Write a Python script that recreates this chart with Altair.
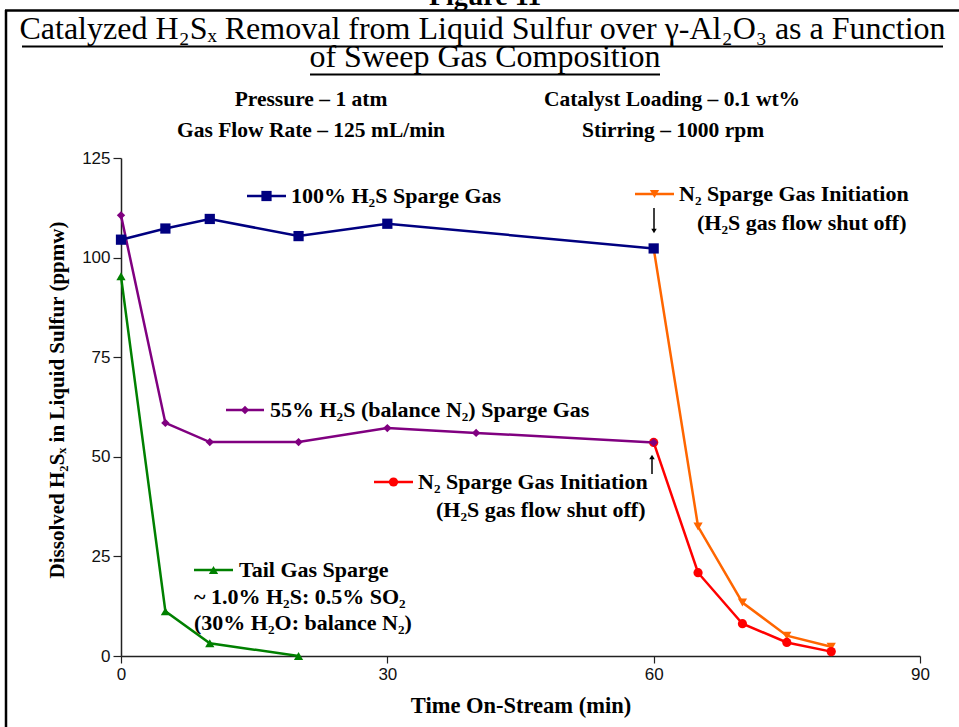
import altair as alt
import pandas as pd

# ---- data ----
t_h2s100 = [0, 5, 10, 20, 30, 60]
v_h2s100 = [104.5, 107.3, 109.7, 105.4, 108.5, 102.3]

t_h2s55 = [0, 5, 10, 20, 30, 40, 60]
v_h2s55 = [110.6, 58.5, 53.7, 53.7, 57.2, 56.0, 53.6]

t_tail = [0, 5, 10, 20]
v_tail = [95.3, 11.2, 3.2, 0.0]

t_n2_after55 = [60, 65, 70, 75, 80]
v_n2_after55 = [53.6, 20.9, 8.1, 3.4, 1.1]

t_n2_after100 = [60, 65, 70, 75, 80]
v_n2_after100 = [102.3, 32.5, 13.4, 5.1, 2.3]

x_ticks = [0, 30, 60, 90]
y_ticks = [0, 25, 50, 75, 100, 125]

SERIF = "Liberation Serif"
SANS = "Liberation Sans"

# plot geometry
W, H = 799, 498
PAD = {"left": 121, "top": 158, "right": 39, "bottom": 71}

xscale = alt.Scale(domain=[0, 90], nice=False, zero=False)
yscale = alt.Scale(domain=[0, 125], nice=False, zero=False)
xaxis = alt.Axis(values=x_ticks, title=None, grid=False, tickSize=7, labelPadding=3,
                 labelFont=SANS, labelFontSize=17, labelColor="#111", domainColor="#222",
                 tickColor="#222", domainWidth=1.5, tickWidth=1.2, labelFlush=False)
yaxis = alt.Axis(values=y_ticks, title=None, grid=False, tickSize=8, labelPadding=3,
                 labelFont=SANS, labelFontSize=17, labelColor="#111", domainColor="#222",
                 tickColor="#222", domainWidth=1.5, tickWidth=1.2)

series = [
    # (times, values, color, shape, size)  -- drawn bottom to top
    (t_n2_after100, v_n2_after100, "#FF6600", "triangle-down", 85),
    (t_n2_after55, v_n2_after55, "#FF0000", "circle", 85),
    (t_tail, v_tail, "#008000", "triangle-up", 85),
    (t_h2s55, v_h2s55, "#800080", "diamond", 70),
    (t_h2s100, v_h2s100, "#000080", "square", 105),
]

layers = []
for ts, vs, col, shp, sz in series:
    d = pd.DataFrame({"t": ts, "v": vs})
    base = alt.Chart(d).encode(
        x=alt.X("t:Q", scale=xscale, axis=xaxis),
        y=alt.Y("v:Q", scale=yscale, axis=yaxis),
    )
    layers.append(base.mark_line(color=col, strokeWidth=2.5))
    layers.append(base.mark_point(shape=shp, filled=True, size=sz, color=col, opacity=1))

one = pd.DataFrame({"k": [0]})


def px(x):
    return x - PAD["left"]


def py(y):
    return y - PAD["top"]


def text(s, x, y, size, weight="bold", align="left", baseline="middle", font=SERIF, angle=0):
    return alt.Chart(one).mark_text(
        text=s, font=font, fontSize=size, fontWeight=weight, align=align,
        baseline=baseline, color="black", angle=angle
    ).encode(x=alt.value(px(x)), y=alt.value(py(y)))


def hline(x1, x2, y, col="black", w=2.0):
    return alt.Chart(one).mark_rule(color=col, strokeWidth=w).encode(
        x=alt.value(px(x1)), x2=alt.value(px(x2)), y=alt.value(py(y)))


def vline(x, y1, y2, col="black", w=2.0):
    return alt.Chart(one).mark_rule(color=col, strokeWidth=w).encode(
        x=alt.value(px(x)), y=alt.value(py(y1)), y2=alt.value(py(y2)))


def marker(x, y, shp, col, sz):
    return alt.Chart(one).mark_point(shape=shp, filled=True, size=sz, color=col, opacity=1).encode(
        x=alt.value(px(x)), y=alt.value(py(y)))


LBL = 22  # in-plot label size
deco = []
# frame
deco.append(hline(5, 959, 10.5, w=2.5))
deco.append(vline(6, 10, 727, w=2.5))
# figure label (cut by frame top)
deco.append(text("Figure 11", 485, 5, 28, baseline="alphabetic", align="center"))
# title
deco.append(text("Catalyzed H₂Sₓ Removal from Liquid Sulfur over γ-Al₂O₃ as a Function",
                 482.5, 39, 32, weight="normal", align="center", baseline="alphabetic"))
deco.append(hline(22, 943, 46.5, w=1.8))
deco.append(text("of Sweep Gas Composition", 485, 67, 32, weight="normal", align="center",
                 baseline="alphabetic"))
deco.append(hline(310, 660, 74.5, w=1.8))
# conditions
deco.append(text("Pressure – 1 atm", 311, 106, 21.5, align="center", baseline="alphabetic"))
deco.append(text("Gas Flow Rate – 125 mL/min", 311, 137, 21.5, align="center", baseline="alphabetic"))
deco.append(text("Catalyst Loading – 0.1 wt%", 672, 106, 21.5, align="center", baseline="alphabetic"))
deco.append(text("Stirring – 1000 rpm", 673, 137, 21.5, align="center", baseline="alphabetic"))
# axis titles
deco.append(text("Time On-Stream (min)", 521, 713, 22.5, align="center", baseline="alphabetic"))
deco.append(text("Dissolved H₂Sₓ in Liquid Sulfur (ppmw)", 58, 400, 21, align="center",
                 baseline="middle", angle=270))

# in-plot labels with keys
def key(x1, x2, y, col, shp, sz):
    return [hline(x1, x2, y, col=col, w=2.5), marker((x1 + x2) / 2, y, shp, col, sz)]

deco += key(247, 286, 196, "#000080", "square", 105)
deco.append(text("100% H₂S Sparge Gas", 291, 196, LBL))

deco += key(226, 264, 410, "#800080", "diamond", 70)
deco.append(text("55% H₂S (balance N₂) Sparge Gas", 270, 410, LBL))

deco += key(374, 413, 482, "#FF0000", "circle", 85)
deco.append(text("N₂ Sparge Gas Initiation", 418, 482, LBL))
deco.append(text("(H₂S gas flow shut off)", 436, 510, LBL))

deco += key(635, 674, 194, "#FF6600", "triangle-down", 85)
deco.append(text("N₂ Sparge Gas Initiation", 679, 194, LBL))
deco.append(text("(H₂S gas flow shut off)", 697, 223, LBL))

deco += key(194, 233, 570, "#008000", "triangle-up", 85)
deco.append(text("Tail Gas Sparge", 239, 570, LBL))
deco.append(text("~ 1.0% H₂S: 0.5% SO₂", 194, 597, LBL))
deco.append(text("(30% H₂O: balance N₂)", 194, 623, LBL))

# arrows
deco.append(vline(654, 208, 231, w=1.5))
deco.append(marker(654, 231, "triangle-down", "black", 30))
deco.append(vline(652, 474, 457, w=1.5))
deco.append(marker(652, 457, "triangle-up", "black", 30))

chart = alt.layer(*layers, *deco).properties(
    width=W, height=H, padding=PAD,
    autosize=alt.AutoSizeParams(type="none"),
    background="white",
).configure_view(stroke=None)

chart.save("out.html", embed_options={"renderer": "svg", "actions": False})
